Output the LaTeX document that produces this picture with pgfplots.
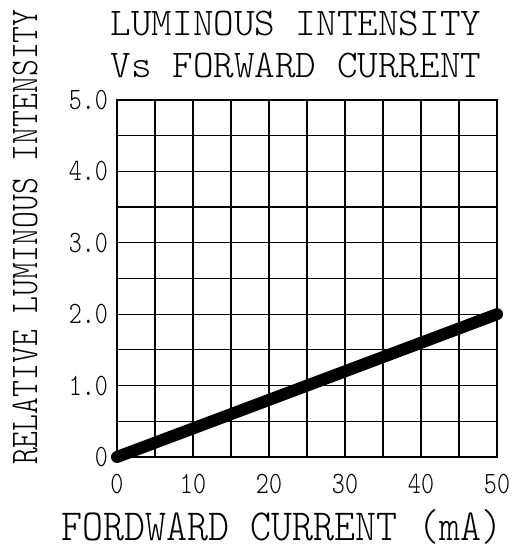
\documentclass[border=0pt]{standalone}
\usepackage{pgfplots}
\pgfplotsset{compat=1.18}
\usepackage{fontspec}
\setmonofont{Latin Modern Mono Light}
% narrow serif mono look: Latin Modern Mono squeezed sideways
\newcommand\sq[2]{\scalebox{#1}[1]{#2}}

\begin{document}
\begin{tikzpicture}
\begin{axis}[
    scale only axis, width=190pt, height=178.5pt,
    xmin=0, xmax=50, ymin=0, ymax=5,
    axis line style={line width=0.6pt},
    xtick={0,10,20,30,40,50},
    xticklabels={\sq{0.8}{0},\sq{0.8}{10},\sq{0.8}{20},\sq{0.8}{30},\sq{0.8}{40},\sq{0.8}{50}},
    ytick={0,1,2,3,4,5},
    yticklabels={\sq{0.8}{0},\sq{0.8}{1.0},\sq{0.8}{2.0},\sq{0.8}{3.0},\sq{0.8}{4.0},\sq{0.8}{5.0}},
    minor xtick={5,15,25,35,45}, minor ytick={0.5,1.5,2.5,3.5,4.5},
    grid=both,
    major grid style={black, line width=0.6pt},
    minor grid style={black, line width=0.6pt},
    major tick length=0pt, minor tick length=0pt,
    tick label style={font=\ttfamily\fontsize{15.5}{15.5}\selectfont},
    xticklabel style={yshift=-5pt},
    yticklabel style={xshift=-1pt},
    clip=false,
]
\addplot[black, line width=6pt, line cap=round] coordinates {(0,0) (50,2)};

\node[anchor=base, font=\ttfamily\fontsize{19.6}{19.6}\selectfont]
  at (rel axis cs:0.471,1.182) {LUMINOUS INTENSITY};
\node[anchor=base, font=\ttfamily\fontsize{19.6}{19.6}\selectfont]
  at (rel axis cs:0.471,1.062) {Vs FORWARD CURRENT};
\node[anchor=base, font=\ttfamily\fontsize{22.2}{22.2}\selectfont]
  at (rel axis cs:0.434,-0.2325) {\sq{0.9}{FORDWARD CURRENT (mA)}};
\node[rotate=90, font=\ttfamily\fontsize{19.6}{19.6}\selectfont]
  at (rel axis cs:-0.242,0.616) {\sq{0.82}{RELATIVE LUMINOUS INTENSITY}};
\end{axis}
\pgfresetboundingbox
\path ([xshift=-58.5pt,yshift=-46pt]current axis.south west)
  rectangle ([xshift=11pt,yshift=50pt]current axis.north east);
\end{tikzpicture}
\end{document}
